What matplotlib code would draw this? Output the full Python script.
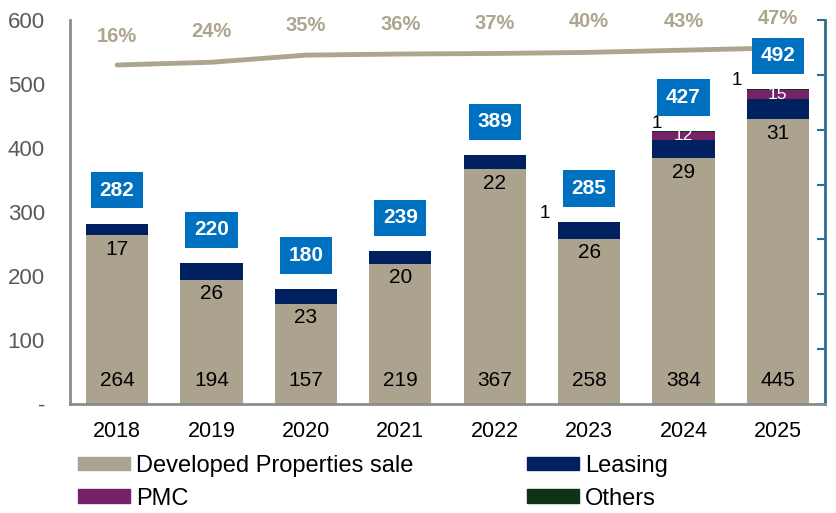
import numpy as np
import matplotlib.pyplot as plt
from matplotlib.patches import Patch

years = ['2018', '2019', '2020', '2021', '2022', '2023', '2024', '2025']
dev_sale = [264, 194, 157, 219, 367, 258, 384, 445]
leasing = [17, 26, 23, 20, 22, 26, 29, 31]
pmc = [0, 0, 0, 0, 0, 0, 12, 15]
others = [0, 0, 0, 0, 0, 1, 1, 1]
totals = [282, 220, 180, 239, 389, 285, 427, 492]
share_pct = ['16%', '24%', '35%', '36%', '37%', '40%', '43%', '47%']
line_vals = [0.618, 0.623, 0.636, 0.638, 0.639, 0.641, 0.645, 0.649]

c_dev = '#aca38e'
c_lease = '#002060'
c_pmc = '#762168'
c_oth = '#0e3316'
c_box = '#0070c0'

plt.rcParams['font.family'] = ['Liberation Sans', 'DejaVu Sans']

fig = plt.figure(figsize=(8.37, 5.13), dpi=100)
ax = fig.add_axes([0.0836, 0.2125, 0.9021, 0.7485])
x = np.arange(len(years))
w = 0.66

dev = np.array(dev_sale)
lea = np.array(leasing)
pm = np.array(pmc)
ot = np.array(others)

ax.bar(x, dev, w, color=c_dev, zorder=2)
ax.bar(x, lea, w, bottom=dev, color=c_lease, zorder=2)
ax.bar(x, pm, w, bottom=dev + lea, color=c_pmc, zorder=2)
ax.bar(x, ot, w, bottom=dev + lea + pm, color=c_oth, zorder=2)

one_dx = [0, 0, 0, 0, 0, -0.47, -0.28, -0.43]
for i in range(len(years)):
    ax.text(x[i], 36, str(dev_sale[i]), ha='center', va='center', fontsize=15, color='black', zorder=4)
    ax.text(x[i], dev[i] - 22, str(leasing[i]), ha='center', va='center', fontsize=15, color='black', zorder=4)
    if pmc[i] > 0:
        ax.text(x[i], dev[i] + lea[i] + pm[i] / 2, str(pmc[i]), ha='center', va='center',
                fontsize=12.5, color='white', zorder=4)
    if others[i] > 0:
        top = dev[i] + lea[i] + pm[i] + ot[i]
        ax.text(x[i] + one_dx[i], top + 13, str(others[i]), ha='center', va='center',
                fontsize=13.5, color='black', zorder=4)
    ax.text(x[i], totals[i] + 52, str(totals[i]), ha='center', va='center', fontsize=15,
            fontweight='bold', color='white', zorder=6,
            bbox=dict(boxstyle='square,pad=0.42', fc=c_box, ec='none'))

ax.set_xlim(-0.5, 7.5)
ax.set_ylim(0, 600)
ax.set_yticks([0, 100, 200, 300, 400, 500, 600])
ax.set_yticklabels(['-', '100', '200', '300', '400', '500', '600'])
ax.tick_params(axis='y', length=0, pad=18, labelsize=16, labelcolor='#595959')
ax.set_xticks(x)
ax.set_xticklabels(years)
ax.tick_params(axis='x', length=0, pad=12, labelsize=15.5)
for s in ['top', 'right']:
    ax.spines[s].set_visible(False)
ax.spines['left'].set_color('#8c8c8c')
ax.spines['left'].set_linewidth(2)
ax.spines['bottom'].set_color('#8c8c8c')
ax.spines['bottom'].set_linewidth(2)

ax2 = ax.twinx()
ax2.set_ylim(0, 0.7)
ax2.set_yticks(np.arange(0, 0.71, 0.1))
ax2.tick_params(axis='y', direction='in', length=6, width=1.5, color='#2d6e90', labelright=False)
for s in ['top', 'left', 'bottom']:
    ax2.spines[s].set_visible(False)
ax2.spines['right'].set_color('#2d6e90')
ax2.spines['right'].set_linewidth(2)
ax2.plot(x, line_vals, color='#ada58f', lw=3.5, solid_capstyle='round', zorder=3)
ax2.set_zorder(ax.get_zorder() - 1)
ax.patch.set_visible(False)

pct_y = [0.670, 0.679, 0.690, 0.692, 0.693, 0.697, 0.697, 0.703]
for i in range(len(years)):
    ax2.text(x[i], pct_y[i], share_pct[i], ha='center', va='center', fontsize=14.5,
             fontweight='bold', color='#ada58f')

handles = [Patch(color=c_dev), Patch(color=c_lease), Patch(color=c_pmc), Patch(color=c_oth)]
labels = ['Developed Properties sale', 'Leasing', 'PMC', 'Others']
order = [0, 2, 1, 3]
fig.legend([handles[k] for k in order], [labels[k] for k in order], ncol=2,
           loc='lower left', bbox_to_anchor=(0.071, -0.03), frameon=False, fontsize=17,
           handlelength=2.2, handleheight=0.5, handletextpad=0.25, columnspacing=4.8,
           labelspacing=0.45, borderpad=0.3)

fig.savefig('out.png', dpi=100)
